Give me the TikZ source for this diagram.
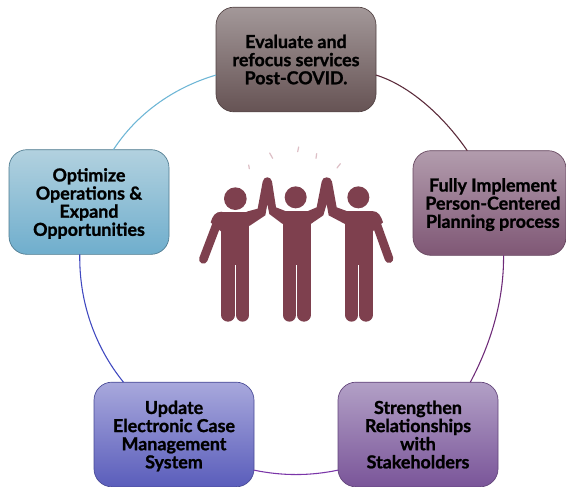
\documentclass[tikz,border=0pt]{standalone}
\usepackage{fontspec}
\setmainfont{Lato}[BoldFeatures={FakeBold=1.2}]
\definecolor{figc}{HTML}{7E404E}
\definecolor{sparkc}{HTML}{DDBFC6}
\definecolor{topA}{HTML}{A39899}
\definecolor{topB}{HTML}{665354}
\definecolor{rightA}{HTML}{B29CAD}
\definecolor{rightB}{HTML}{7F5775}
\definecolor{brA}{HTML}{B2A0C6}
\definecolor{brB}{HTML}{7A5599}
\definecolor{blA}{HTML}{A8A8DC}
\definecolor{blB}{HTML}{5A5DBB}
\definecolor{lfA}{HTML}{B2D1DF}
\definecolor{lfB}{HTML}{6FAECD}
\definecolor{ringA}{HTML}{5A2A3A}
\definecolor{ringB}{HTML}{6E2A78}
\definecolor{ringC}{HTML}{7A35A8}
\definecolor{ringD}{HTML}{3F48C0}
\definecolor{ringE}{HTML}{6DB6D6}
\begin{document}
\begin{tikzpicture}[x=0.75pt,y=-0.75pt,
  stepbox/.style={rounded corners=13.5pt,draw=#1,line width=0.5pt,minimum width=120pt,minimum height=78.5pt,inner sep=0pt,outer sep=0pt,align=center,text depth=0pt,font=\fontsize{13.4pt}{13.6pt}\selectfont\bfseries,text=black},
  ring/.style={line width=0.8pt},
  limb/.style={draw=figc,line cap=round,line join=round},
  spark/.style={draw=sparkc,line width=0.9pt,line cap=round}]
\useasboundingbox (0,0) rectangle (566,486);
\fill[white] (0,0) rectangle (566,486);
\node[stepbox=topB!80!black,top color=topA,bottom color=topB] (top) at (296,59.5) {Evaluate and\\refocus services\\Post-COVID.};
\node[stepbox=rightB!80!black,minimum width=114.75pt,top color=rightA,bottom color=rightB] (right) at (489.5,203) {\hspace*{5pt}Fully Implement\\\hspace*{5pt}Person-Centered\\\hspace*{5pt}Planning process};
\node[stepbox=brB!80!black,top color=brA,bottom color=brB] (br) at (418,434.5) {Strengthen\\Relationships\\with\\Stakeholders};
\node[stepbox=blB!80!black,top color=blA,bottom color=blB] (bl) at (174,434.5) {Update\\Electronic Case\\Management\\System};
\node[stepbox=lfB!70!black,top color=lfA,bottom color=lfB] (left) at (89,202) {Optimize\\Operations \&\\Expand\\Opportunities};
\draw[ring,draw=ringA] (top.-11) .. controls (408,85) and (442,114) .. (right.113.4);
\draw[ring,draw=ringB] (right.-75.5) .. controls (504,302) and (490,345) .. (br.45.3);
\draw[ring,draw=ringC] (br.204.2) .. controls (310,476) and (282,476) .. (bl.-24.2);
\draw[ring,draw=ringD] (bl.134.2) .. controls (95,347) and (79,302) .. (left.-100.9);
\draw[ring,draw=ringE] (left.65.2) .. controls (136,115) and (172,88) .. (top.191);
\begin{scope}[shift={(180,130)},x=0.25pt,y=-0.25pt]
  % heads
  \fill[figc] (166,206) circle[radius=34];
  \fill[figc] (347,202) circle[radius=33];
  \fill[figc] (535,202) circle[radius=33];
  % torsos
  \fill[figc] (124,245) rectangle (208,405);
  \fill[figc] (308,243) rectangle (392,405);
  \fill[figc] (495,243) rectangle (578,405);
  % legs
  \draw[limb,line width=10pt] (144,320) -- (144,555);
  \draw[limb,line width=10pt] (188,320) -- (188,555);
  \draw[limb,line width=10pt] (328,320) -- (328,555);
  \draw[limb,line width=10pt] (372,320) -- (372,555);
  \draw[limb,line width=10pt] (515,320) -- (515,555);
  \draw[limb,line width=10pt] (558,320) -- (558,555);
  % outer arms
  \draw[limb,line width=6.5pt] (70,388) -- (110,283);
  \fill[figc] (126,245) .. controls (105,245) and (98,258) .. (92,277) -- (124,305) -- cycle;
  \draw[limb,line width=6.5pt] (627,386) -- (590,283);
  \fill[figc] (576,243) .. controls (595,243) and (603,258) .. (609,277) -- (577,305) -- cycle;
  % raised arms with joined hands
  \fill[figc] (208,288) -- (256,256) -- (262,222) -- (268,252) -- (308,282) -- (316,243) -- (288,232) -- (276,155) .. controls (274,146) and (269,142) .. (262,142) .. controls (255,142) and (250,146) .. (248,155) -- (233,236) -- (200,245) -- cycle;
  \fill[figc] (392,282) -- (430,256) -- (440,222) -- (446,256) -- (495,282) -- (500,243) -- (470,232) -- (456,155) .. controls (454,146) and (448,142) .. (440,142) .. controls (432,142) and (427,146) .. (425,155) -- (410,232) -- (384,243) -- cycle;
  % sparks
  \draw[spark] (206,105) -- (208,116);
  \draw[spark] (269,69) -- (278,85);
  \draw[spark] (356,51) -- (353,65);
  \draw[spark] (410,71) -- (408,85);
  \draw[spark] (481,101) -- (471,114);
\end{scope}
\end{tikzpicture}
\end{document}
